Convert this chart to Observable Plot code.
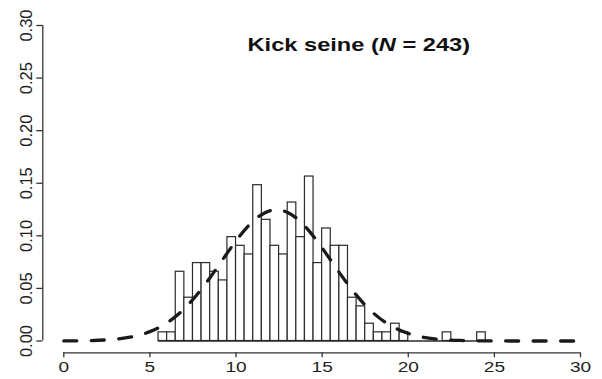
<!DOCTYPE html>
<html><head><meta charset="utf-8">
<script src="https://cdn.jsdelivr.net/npm/d3@7"></script>
<script src="https://cdn.jsdelivr.net/npm/@observablehq/plot@0.6"></script>
<style>html,body{margin:0;padding:0;background:#fff}svg{display:block}</style>
</head><body><div id="chart"></div>
<script>
// ---- data ----
const titleMain = "Kick seine (";
const titleItalic = "N";
const titleEnd = " = 243)";
const sampleSize = 243;
const binWidth = 0.5;
const binStarts = [5.5,6,6.5,7,7.5,8,8.5,9,9.5,10,10.5,11,11.5,12,12.5,13,13.5,14,14.5,15,15.5,16,16.5,17,17.5,18,18.5,19,19.5,20,20.5,21,21.5,22,22.5,23,23.5,24];
const binCounts = [1,1,8,5,9,9,8,7,12,11,10,18,14,11,10,16,12,19,9,13,11,11,5,4,2,1,1,2,1,0,0,0,0,1,0,0,0,1];
const curveX = [0,1,2,3,4,5,6,7,8,9,10,11,12,13,14,15,16,17,18,19,20,21,22,23,24,25,26,27,28,29,30];
const curveY = [0.0001,0.0002,0.0007,0.0017,0.0041,0.0089,0.0174,0.0308,0.0495,0.0721,0.0952,0.1141,0.1240,0.1222,0.1092,0.0885,0.0650,0.0434,0.0262,0.0144,0.0072,0.0032,0.0013,0.0005,0.0002,0.0001,0,0,0,0,0];
const xTicks = [0,5,10,15,20,25,30];
const yTicks = [0,0.05,0.10,0.15,0.20,0.25,0.30];

const bars = binStarts.map((x0, i) => ({x1: x0, x2: x0 + binWidth, y: binCounts[i] / (sampleSize * binWidth)}));
const curve = curveX.map((x, i) => ({x, y: curveY[i]}));

const ink = "#1e1e1e";
const stretch = 1.27;

const plot = Plot.plot({
  width: 602, height: 379,
  marginLeft: 42.3, marginRight: 22, marginTop: 25, marginBottom: 26.7,
  style: {fontFamily: "'Liberation Sans', Arial, sans-serif", fontSize: "15px", color: ink, background: "#fff", overflow: "visible"},
  x: {domain: [0, 30], range: [63.3, 580]},
  y: {domain: [0, 0.3], range: [340.5, 25]},
  marks: [
    Plot.rectY(bars, {x1: "x1", x2: "x2", y1: 0, y2: "y", fill: "white", stroke: "#2a2a2a", strokeWidth: 1.2, inset: 0}),
    // baseline of the histogram (zero-count bins drawn as flat bars)
    Plot.ruleY([0], {x1: binStarts[0], x2: binStarts[binStarts.length - 1] + binWidth, stroke: "#2a2a2a", strokeWidth: 1.3}),
    Plot.line(curve, {x: "x", y: "y", stroke: "#1a1a1a", strokeWidth: 3.3, strokeDasharray: "13,14.5", curve: "natural"}),
    Plot.ruleY([0], {x1: xTicks[0], x2: xTicks[xTicks.length - 1], dy: 11.8, stroke: "#333", strokeWidth: 1.3}),
    Plot.ruleX([0], {y1: yTicks[0], y2: yTicks[yTicks.length - 1], dx: -21, stroke: "#333", strokeWidth: 1.3}),
    Plot.axisX({ticks: xTicks, tickSize: 5, tickPadding: 4, tickFormat: d3.format("d"), label: null, stroke: "#333", strokeWidth: 1.3, fontSize: 15}),
    Plot.axisY({ticks: yTicks, tickSize: 6, tickFormat: () => "", label: null, stroke: "#333", strokeWidth: 1.3}),
    Plot.text(yTicks, {frameAnchor: "left", y: d => d, dx: -16.5, rotate: -90, textAnchor: "middle", lineAnchor: "middle", text: d => d.toFixed(2), fontSize: 16.5, fill: ink, ariaLabel: "ylab"})
  ]
});
document.getElementById("chart").appendChild(plot);

const svg = d3.select(plot);
// horizontal stretch of x tick labels, as in the reference
svg.selectAll('g[aria-label="x-axis tick label"] text').each(function() {
  const len = this.getComputedTextLength();
  this.setAttribute("textLength", len * stretch);
  this.setAttribute("lengthAdjust", "spacingAndGlyphs");
});
// horizontal stretch of rotated y labels about their centre
svg.selectAll('g[aria-label="ylab"]').each(function() {
  const cx = 42.3 - 16.5;
  const t = this.getAttribute("transform") || "";
  this.setAttribute("transform", `translate(${cx},0) scale(${stretch},1) translate(${-cx},0) ${t}`);
});
// title with italic N
const title = svg.append("text")
  .attr("transform", `translate(358.8,51) scale(${stretch},1)`)
  .attr("text-anchor", "middle")
  .attr("font-family", "'Liberation Sans', Arial, sans-serif")
  .attr("font-weight", "bold")
  .attr("font-size", 18.6)
  .attr("fill", "#111");
title.append("tspan").text(titleMain);
title.append("tspan").attr("font-style", "italic").text(titleItalic);
title.append("tspan").text(titleEnd);
</script>
</body></html>
